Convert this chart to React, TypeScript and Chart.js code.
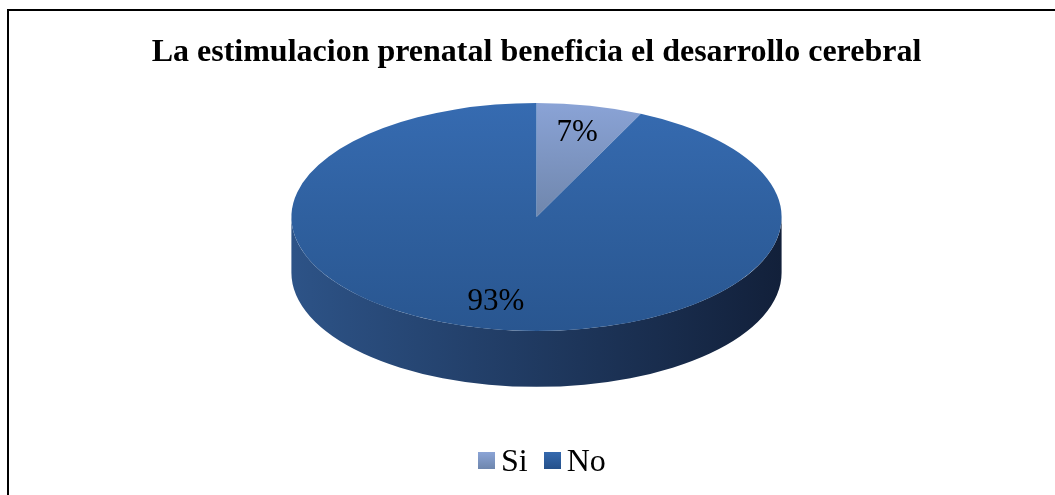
import React, { useEffect, useRef } from "react";
import { Chart, registerables } from "chart.js";

Chart.register(...registerables);

const TITLE = "La estimulacion prenatal beneficia el desarrollo cerebral";
const LABELS = ["Si", "No"];
const VALUES = [7, 93];
const TOP_COLORS = [
  ["#8AA3D6", "#6F86AC", "#56698A"],
  ["#366BB1", "#2F609F", "#295690"],
];
const SIDE_COLORS = [
  ["#5F7398", "#3B4B66"],
  ["#2D5387", "#12203A"],
];
const LEGEND_COLORS = [
  ["#8BA4D6", "#6E86AD"],
  ["#3569AE", "#24508A"],
];

const FONT = "'Liberation Serif', 'Times New Roman', Times, serif";
const ASPECT = 2.15; // horizontal stretch of the tilted pie
const DEPTH = 0.49; // side height relative to vertical radius
const LABEL_R = 0.76; // label distance relative to radius

const pie3d = {
  id: "pie3d",
  beforeDatasetsDraw(chart: any) {
    const ctx = chart.ctx as CanvasRenderingContext2D;
    const meta = chart.getDatasetMeta(0);
    const arcs = meta.data as any[];
    ctx.save();
    if (!arcs.length) return;
    const p0 = arcs[0].getProps(["x", "y", "outerRadius"], true);
    const cx = p0.x, cy = p0.y, r = p0.outerRadius;
    const depth = r * DEPTH;
    ctx.translate(cx, 0);
    ctx.scale(ASPECT, 1);
    ctx.translate(-cx, 0);
    arcs.forEach((arc, i) => {
      const { startAngle, endAngle } = arc.getProps(["startAngle", "endAngle"], true);
      for (const k of [-1, 0, 1]) {
        const off = k * 2 * Math.PI;
        const a0 = Math.max(startAngle + off, 0);
        const a1 = Math.min(endAngle + off, Math.PI);
        if (a1 <= a0) continue;
        const g = ctx.createLinearGradient(cx - r, 0, cx + r, 0);
        g.addColorStop(0, SIDE_COLORS[i][0]);
        g.addColorStop(1, SIDE_COLORS[i][1]);
        ctx.beginPath();
        ctx.arc(cx, cy, r, a0, a1);
        ctx.arc(cx, cy + depth, r, a1, a0, true);
        ctx.closePath();
        ctx.fillStyle = g;
        ctx.fill();
      }
    });
  },
  afterDatasetsDraw(chart: any) {
    const ctx = chart.ctx as CanvasRenderingContext2D;
    ctx.restore();
    const meta = chart.getDatasetMeta(0);
    const arcs = meta.data as any[];
    const values = chart.data.datasets[0].data as number[];
    const total = values.reduce((a, b) => a + b, 0);
    ctx.save();
    ctx.fillStyle = "#000";
    ctx.font = `31px ${FONT}`;
    ctx.textAlign = "center";
    ctx.textBaseline = "middle";
    arcs.forEach((arc, i) => {
      const p = arc.getProps(["x", "y", "startAngle", "endAngle", "outerRadius"], true);
      const mid = (p.startAngle + p.endAngle) / 2;
      const lx = p.x + Math.cos(mid) * p.outerRadius * LABEL_R * ASPECT;
      const ly = p.y + Math.sin(mid) * p.outerRadius * LABEL_R;
      ctx.fillText(Math.round((values[i] / total) * 100) + "%", lx, ly);
    });
    ctx.restore();
  },
};

export default function App() {
  const ref = useRef<HTMLCanvasElement | null>(null);

  useEffect(() => {
    if (!ref.current) return;
    const chart = new Chart(ref.current, {
      type: "pie",
      data: {
        labels: LABELS,
        datasets: [
          {
            data: VALUES,
            borderWidth: 0,
            clip: false as any,
            backgroundColor: (c: any) => {
              const area = c.chart.chartArea;
              const cols = TOP_COLORS[c.dataIndex] || TOP_COLORS[0];
              if (!area) return cols[0];
              const g = c.chart.ctx.createLinearGradient(0, area.top, 0, area.bottom);
              g.addColorStop(0, cols[0]);
              g.addColorStop(0.5, cols[1]);
              g.addColorStop(1, cols[2]);
              return g;
            },
          },
        ],
      },
      options: {
        responsive: false,
        animation: false,
        devicePixelRatio: 1,
        events: [],
        layout: { padding: { left: 18, right: 0, top: 0, bottom: 164 } },
        plugins: {
          legend: { display: false },
          tooltip: { enabled: false },
          title: {
            display: true,
            text: TITLE,
            color: "#000",
            font: { family: FONT, size: 32, weight: "bold", lineHeight: 1.2 },
            padding: { top: 34, bottom: 30.6 },
          },
        },
      },
      plugins: [pie3d],
    });
    return () => chart.destroy();
  }, []);

  return (
    <div
      style={{
        position: "fixed",
        left: 0,
        top: 0,
        width: 1055,
        height: 495,
        overflow: "hidden",
        background: "#fff",
      }}
    >
      <div
        style={{
          position: "absolute",
          left: 7,
          top: 9,
          width: 1100,
          height: 600,
          border: "2px solid #000",
          boxSizing: "border-box",
        }}
      />
      <canvas
        ref={ref}
        width={1055}
        height={495}
        style={{ position: "absolute", left: 0, top: 0, display: "block" }}
      />
      <div
        style={{
          position: "absolute",
          left: 478,
          top: 444,
          display: "flex",
          alignItems: "center",
          fontFamily: FONT,
          fontSize: 32,
          lineHeight: "32px",
          color: "#000",
          whiteSpace: "nowrap",
        }}
      >
        {LABELS.map((label, i) => (
          <div
            key={label}
            style={{ display: "flex", alignItems: "center", marginLeft: i === 0 ? 0 : 16 }}
          >
            <span
              style={{
                display: "inline-block",
                width: 17,
                height: 17,
                marginRight: 6,
                background: `linear-gradient(${LEGEND_COLORS[i][0]}, ${LEGEND_COLORS[i][1]})`,
              }}
            />
            <span>{label}</span>
          </div>
        ))}
      </div>
    </div>
  );
}
